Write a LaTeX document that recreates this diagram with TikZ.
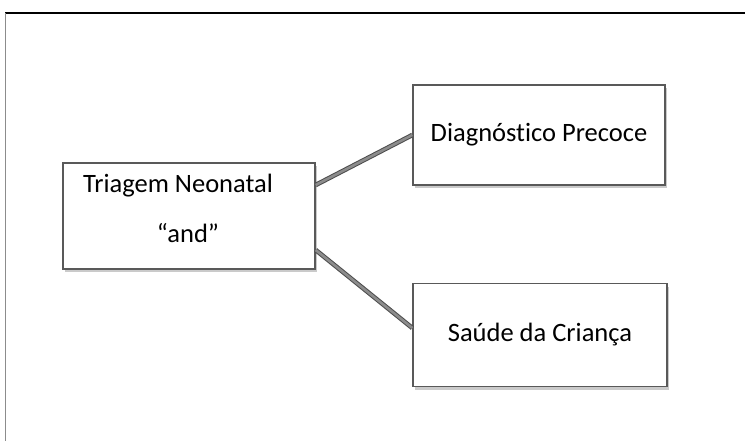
\documentclass[tikz,border=0pt]{standalone}
\usepackage{fontspec}
\setmainfont{Carlito}[Ligatures=NoCommon]
\usetikzlibrary{shadows}

\tikzset{
    tbox/.style={draw=black!65, line width=1.4pt, fill=white,
        drop shadow={shadow xshift=2pt, shadow yshift=-3pt, opacity=0.35, fill=black!60},
        inner sep=0pt, font=\fontsize{26.5}{30}\selectfont},
    tlink/.style={draw=black!70, line width=1pt, double=black!45, double distance=2.6pt}
}

\begin{document}
\begin{tikzpicture}[x=1pt, y=-1pt]
    \useasboundingbox (0,0) rectangle (745,441);
    \draw[line width=1.3pt] (5,13) -- (745,13);
    \draw[black!45, line width=0.6pt] (5,13) -- (5,441);

    \node[tbox, minimum width=252pt, minimum height=106pt] (tn) at (189,216) {};
    \node[font=\fontsize{26.5}{30}\selectfont] (tnlabel) at (178,186) {Triagem Neonatal};
    \node[font=\fontsize{26.5}{30}\selectfont] (andlabel) at (188,233) {“and”};

    \node[tbox, minimum width=252pt, minimum height=100pt] (dp) at (539,135) {Diagnóstico Precoce};
    \node[tbox, minimum width=254pt, minimum height=103pt] (sc) at (540,335) {Saúde da Criança};

    \draw[tlink] ([yshift=31pt]tn.east) -- (dp.west);
    \draw[tlink] ([yshift=-34pt]tn.east) -- ([yshift=7pt]sc.west);
\end{tikzpicture}
\end{document}
